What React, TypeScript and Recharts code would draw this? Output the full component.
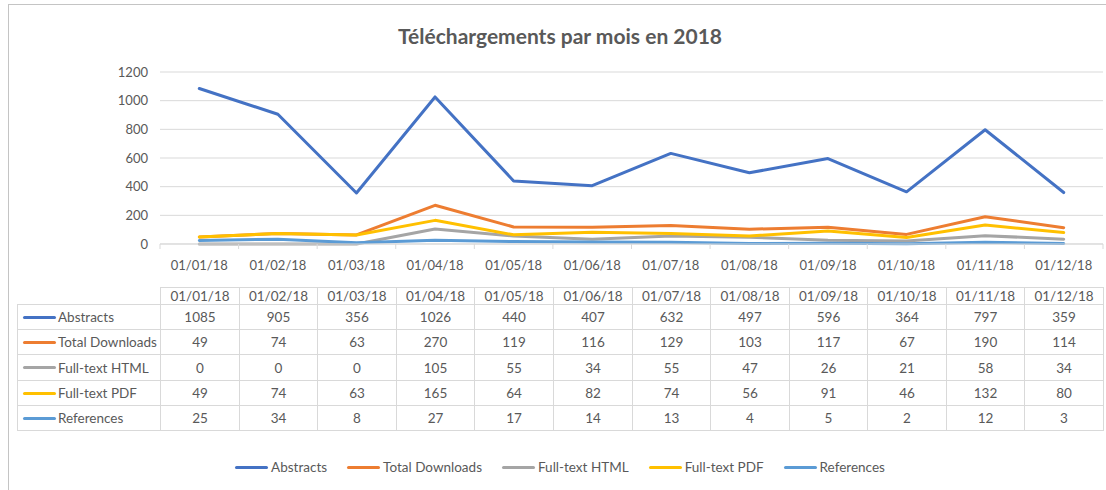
import React from "react";
import { LineChart, Line, XAxis, YAxis, CartesianGrid } from "recharts";

const months = [
  "01/01/18", "01/02/18", "01/03/18", "01/04/18", "01/05/18", "01/06/18",
  "01/07/18", "01/08/18", "01/09/18", "01/10/18", "01/11/18", "01/12/18",
];
const abstracts = [1085, 905, 356, 1026, 440, 407, 632, 497, 596, 364, 797, 359];
const totalDownloads = [49, 74, 63, 270, 119, 116, 129, 103, 117, 67, 190, 114];
const fullTextHtml = [0, 0, 0, 105, 55, 34, 55, 47, 26, 21, 58, 34];
const fullTextPdf = [49, 74, 63, 165, 64, 82, 74, 56, 91, 46, 132, 80];
const references = [25, 34, 8, 27, 17, 14, 13, 4, 5, 2, 12, 3];
const yTicks = [0, 200, 400, 600, 800, 1000, 1200];

const series = [
  { key: "abstracts", name: "Abstracts", color: "#4472C4", values: abstracts },
  { key: "totalDownloads", name: "Total Downloads", color: "#ED7D31", values: totalDownloads },
  { key: "fullTextHtml", name: "Full-text HTML", color: "#A5A5A5", values: fullTextHtml },
  { key: "fullTextPdf", name: "Full-text PDF", color: "#FFC000", values: fullTextPdf },
  { key: "references", name: "References", color: "#5B9BD5", values: references },
];

const data = months.map((month, i) => {
  const row: Record<string, string | number> = { month };
  series.forEach((s) => (row[s.key] = s.values[i]));
  return row;
});

const W = 1106;
const H = 490;
const PLOT_LEFT = 160;
const PLOT_RIGHT = 1103;
const PLOT_BOTTOM = 244;
const BAND = (PLOT_RIGHT - PLOT_LEFT) / months.length;
const GRID = "#d9d9d9";
const TEXT = "#595959";
const FONT = "Lato, 'Open Sans', sans-serif";

function MonthTick(props: any) {
  const { x, payload, index } = props;
  return (
    <g>
      <line x1={x - BAND / 2} x2={x - BAND / 2} y1={PLOT_BOTTOM} y2={PLOT_BOTTOM + 5} stroke={GRID} />
      {index === months.length - 1 && (
        <line x1={x + BAND / 2} x2={x + BAND / 2} y1={PLOT_BOTTOM} y2={PLOT_BOTTOM + 5} stroke={GRID} />
      )}
      <text x={x} y={PLOT_BOTTOM + 21} textAnchor="middle" dominantBaseline="central" fill={TEXT} fontSize={13} fontFamily={FONT}>
        {payload.value}
      </text>
    </g>
  );
}

function KeyLegend() {
  return (
    <div style={{ position: "absolute", left: 0, top: 459, width: W, display: "flex", justifyContent: "center", paddingLeft: 14, boxSizing: "border-box", fontFamily: FONT, fontSize: 13.5, color: TEXT }}>
      {series.map((s) => (
        <div key={s.key} style={{ display: "flex", alignItems: "center", margin: "0 10px" }}>
          <span style={{ display: "inline-block", width: 33, height: 3, background: s.color, borderRadius: 2, marginRight: 3 }} />
          <span>{s.name}</span>
        </div>
      ))}
    </div>
  );
}

function DataTable() {
  const top = 287;
  const headH = 17;
  const rowH = 25.2;
  const labelLeft = 17;
  const colX = (i: number) => Math.round(PLOT_LEFT + i * BAND);
  const cells: React.ReactNode[] = [];
  const cellStyle = (x: number, y: number, w: number, h: number): React.CSSProperties => ({
    position: "absolute",
    left: x,
    top: Math.round(y),
    width: w + 1,
    height: Math.round(h) + 1,
    boxSizing: "border-box",
    border: `1px solid ${GRID}`,
    display: "flex",
    alignItems: "center",
    justifyContent: "center",
  });
  months.forEach((m, i) => {
    cells.push(
      <div key={"h" + i} style={cellStyle(colX(i), top, colX(i + 1) - colX(i), headH)}>{m}</div>
    );
  });
  series.forEach((s, r) => {
    const y = top + headH + Math.round(r * rowH);
    const h = top + headH + Math.round((r + 1) * rowH) - y;
    cells.push(
      <div key={"l" + r} style={{ ...cellStyle(labelLeft, y, PLOT_LEFT - labelLeft, h), justifyContent: "flex-start" }}>
        <span style={{ display: "inline-block", width: 33, height: 3, background: s.color, borderRadius: 2, marginLeft: 5, marginRight: 2 }} />
        <span>{s.name}</span>
      </div>
    );
    s.values.forEach((v, i) => {
      cells.push(
        <div key={r + "-" + i} style={cellStyle(colX(i), y, colX(i + 1) - colX(i), h)}>{v}</div>
      );
    });
  });
  return <div style={{ position: "absolute", left: 0, top: 0, fontFamily: FONT, fontSize: 13.5, color: TEXT }}>{cells}</div>;
}

export default function App() {
  return (
    <div style={{ position: "absolute", left: 0, top: 0, width: W, height: H, background: "#fff", overflow: "hidden" }}>
      <div style={{ position: "absolute", left: 8, top: 4, width: W, height: H, borderLeft: "1.5px solid #c4c4c4", borderTop: "1.5px solid #c4c4c4" }} />
      <div style={{ position: "absolute", left: 8, top: 23, width: 1104, textAlign: "center", fontFamily: FONT, fontWeight: 700, fontSize: 21, color: TEXT }}>
        Téléchargements par mois en 2018
      </div>
      <div style={{ position: "absolute", left: 0, top: 0 }}>
        <LineChart width={W} height={H} data={data} margin={{ top: 72, right: W - PLOT_RIGHT, left: PLOT_LEFT - 60, bottom: H - PLOT_BOTTOM - 30 }}>
          <CartesianGrid horizontal vertical={false} stroke={GRID} />
          <XAxis dataKey="month" height={30} interval={0} padding={{ left: BAND / 2, right: BAND / 2 }}
            axisLine={{ stroke: GRID }} tickLine={false} tick={<MonthTick />} />
          <YAxis width={60} domain={[0, 1200]} ticks={yTicks} axisLine={false} tickLine={false} tickMargin={6}
            tick={{ fill: TEXT, fontSize: 13, fontFamily: FONT }} />
          {series.map((s) => (
            <Line key={s.key} type="linear" dataKey={s.key} name={s.name} stroke={s.color} strokeWidth={3}
              dot={false} activeDot={false} strokeLinejoin="round" strokeLinecap="round" isAnimationActive={false} />
          ))}
        </LineChart>
      </div>
      <KeyLegend />
      <DataTable />
    </div>
  );
}
